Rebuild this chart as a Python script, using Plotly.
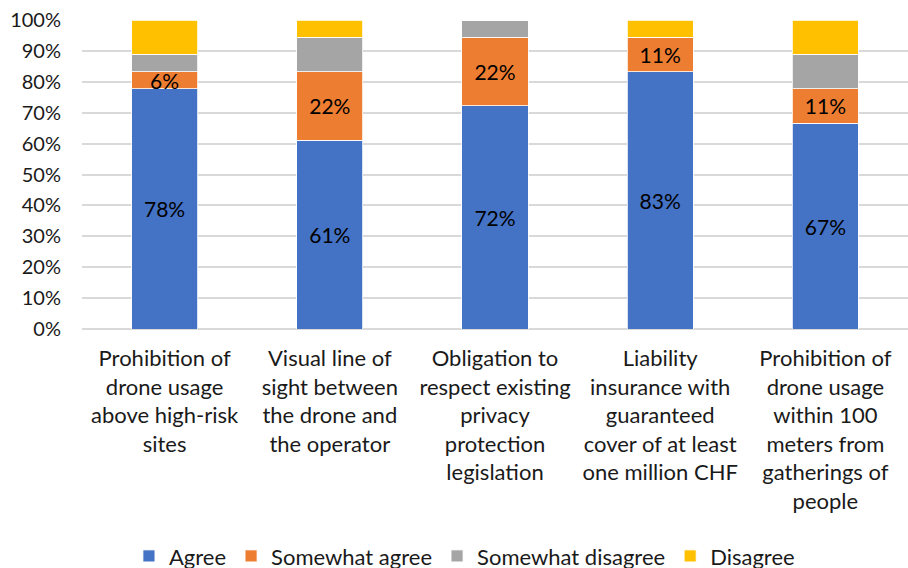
import plotly.graph_objects as go

# Survey responses (n = 18 respondents per measure)
categories = [
    "Prohibition of<br>drone usage<br>above high-risk<br>sites",
    "Visual line of<br>sight between<br>the drone and<br>the operator",
    "Obligation to<br>respect existing<br>privacy<br>protection<br>legislation",
    "Liability<br>insurance with<br>guaranteed<br>cover of at least<br>one million CHF",
    "Prohibition of<br>drone usage<br>within 100<br>meters from<br>gatherings of<br>people",
]
respondents = 18
agree = [14, 11, 13, 15, 12]
somewhat_agree = [1, 4, 4, 2, 2]
somewhat_disagree = [1, 2, 1, 0, 2]
disagree = [2, 1, 0, 1, 2]

series = [
    ("Agree", agree, "#4472C4", True),
    ("Somewhat agree", somewhat_agree, "#ED7D31", True),
    ("Somewhat disagree", somewhat_disagree, "#A5A5A5", False),
    ("Disagree", disagree, "#FFC000", False),
]

FONT = "Lato"
TEXT = "#1a1a1a"

fig = go.Figure()
for name, counts, color, labelled in series:
    pct = [c / respondents * 100 for c in counts]
    fig.add_trace(go.Bar(
        name=name,
        x=categories,
        y=pct,
        marker=dict(color=color, line=dict(color="white", width=0.8)),
        text=[f"{round(p)}%" for p in pct] if labelled else None,
        textposition="inside",
        insidetextanchor="middle",
        textfont=dict(family=FONT, size=21, color="black"),
        textangle=0,
        constraintext="none",
    ))

fig.update_layout(
    barmode="stack",
    bargap=0.6,
    width=908,
    height=568,
    margin=dict(l=82, r=0, t=20, b=239, autoexpand=False),
    paper_bgcolor="white",
    plot_bgcolor="white",
    font=dict(family=FONT, size=20, color=TEXT),
    legend=dict(
        orientation="h",
        x=0.463, xanchor="center",
        y=-0.735, yanchor="middle",
        font=dict(family=FONT, size=22, color=TEXT),
        traceorder="normal",
    ),
    yaxis=dict(
        range=[0, 100],
        dtick=10,
        ticksuffix="%",
        showgrid=True,
        gridcolor="#d9d9d9",
        gridwidth=1.5,
        zeroline=True,
        zerolinecolor="#d9d9d9",
        zerolinewidth=1.5,
        ticklabelstandoff=20,
        tickfont=dict(family=FONT, size=20, color=TEXT),
        automargin=False,
        fixedrange=True,
    ),
    xaxis=dict(
        tickfont=dict(family=FONT, size=22, color=TEXT),
        ticks="",
        showline=False,
        ticklabelstandoff=14,
        automargin=False,
        fixedrange=True,
    ),
)

fig.write_html("out.html")
